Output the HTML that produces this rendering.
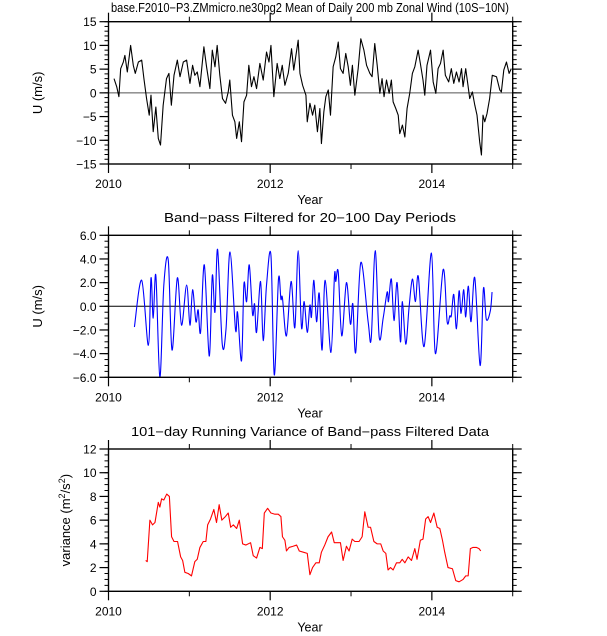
<!DOCTYPE html>
<html><head><meta charset="utf-8"><style>
html,body{margin:0;padding:0;background:#fff;}
svg{display:block;font-family:"Liberation Sans","DejaVu Sans",sans-serif;}
</style></head><body>
<svg id="chart" width="607" height="636" viewBox="0 0 607 636" xmlns="http://www.w3.org/2000/svg"></svg>
<script>
// ---- data (days since 2010-01-01) ----
const uDays=[25,37,47,55,67,74,85,100,112,121,135,150,160,172,184,192,202,214,225,235,247,262,273,284,296,311,323,338,353,368,380,390,401,413,431,443,458,469,481,491,503,515,529,541,548,560,571,579,591,601,612,624,634,646,657,669,684,699,714,725,734,747,762,774,785,797,812,827,837,857,865,877,892,898,910,922,932,944,955,962,973,982,993,1003,1015,1027,1038,1048,1060,1072,1083,1093,1102,1113,1128,1140,1154,1166,1181,1191,1203,1214,1226,1236,1245,1256,1268,1278,1286,1298,1309,1316,1328,1339,1349,1361,1373,1384,1399,1409,1421,1429,1439,1455,1467,1479,1489,1500,1512,1522,1537,1549,1560,1572,1584,1595,1602,1614,1625,1632,1644,1655,1665,1677,1685,1692,1700,1710,1722,1734,1753,1768,1775,1786,1798,1810,1820];
const uVals=[3.0,1.3,-0.8,5.1,6.5,7.9,4.4,10.0,5.8,4.1,6.5,6.9,3.0,-1.2,-4.7,-0.5,-8.2,-3.0,-9.6,-11.0,-2.6,3.0,4.1,-2.6,3.7,6.9,3.4,6.5,6.9,2.0,5.8,3.7,4.4,1.3,9.7,5.5,0.9,9.0,5.5,10.0,3.7,-1.2,-2.2,0.2,2.7,-4.7,-6.1,-9.6,-6.1,-10.3,-1.9,-0.5,5.8,1.3,3.4,0.9,6.2,2.7,8.6,6.5,10.0,-0.8,6.2,3.0,5.8,1.6,4.1,9.3,4.8,11.1,4.1,1.6,-0.5,-6.1,-2.2,-4.7,-2.6,-8.2,-3.3,-10.7,-4.0,-0.8,0.6,-4.7,5.5,7.6,10.7,5.1,4.1,8.3,5.5,1.6,5.8,-0.5,5.1,11.4,9.0,5.8,4.1,3.4,10.4,5.8,-0.1,3.0,-0.8,2.7,-0.1,2.7,-1.9,-3.3,-4.7,-8.6,-6.8,-9.3,-3.3,-0.1,4.1,5.5,9.0,6.2,2.7,-0.5,5.8,9.0,2.3,-0.1,5.1,6.2,9.0,3.7,2.3,5.1,2.0,4.4,2.3,5.1,1.3,5.1,1.3,-1.2,0.2,-2.6,-4.7,-10.3,-13.1,-4.7,-6.1,-4.4,-1.2,3.7,3.4,0.6,0.2,4.8,6.5,4.1,5.1];
const bpDays=[117,150,180,192,202,214,232,250,270,287,311,330,353,368,380,395,405,416,433,455,469,481,493,514,531,549,574,583,601,612,624,636,651,660,669,687,699,714,734,749,768,779,786,804,825,842,857,872,884,898,910,917,928,940,952,965,979,1005,1021,1027,1038,1054,1075,1093,1104,1117,1140,1173,1187,1205,1223,1241,1259,1265,1278,1290,1304,1319,1328,1343,1358,1373,1387,1400,1426,1459,1477,1512,1530,1542,1549,1560,1572,1584,1593,1605,1614,1626,1638,1655,1679,1694,1707,1725,1733];
const bpVals=[-1.75,2.2,-3.3,2.4,-1.0,2.6,-6.0,1.8,3.9,-3.7,2.4,-1.6,1.8,-1.6,1.4,-1.3,-0.3,-2.2,3.5,-4.2,2.6,-0.5,4.8,-3.2,-1.9,4.6,-2.0,-0.5,-4.6,1.9,0.4,3.5,-0.7,0.2,-2.2,2.1,-2.9,1.8,4.3,-5.8,2.3,0.6,0.7,-2.5,2.1,-1.8,4.7,-1.8,0.4,-2.2,0.1,-0.9,2.2,-1.3,1.1,-3.7,2.2,-3.9,2.6,2.1,2.9,-2.5,2.0,-1.5,0.2,-3.9,3.7,-1.3,-2.7,4.7,-2.6,-1.0,1.2,0.4,2.3,-1.2,2.0,-3.0,0.4,-3.2,-0.1,2.3,0.4,2.5,-3.4,4.5,-4.0,3.1,-1.3,-0.8,-0.8,1.0,-1.9,1.3,-0.6,1.4,-0.9,1.7,-1.3,2.4,-5.0,1.5,-1.1,-0.4,1.2];
const varDays=[168,175,187,199,210,225,232,240,250,263,275,285,296,312,326,335,345,360,375,390,401,413,428,440,448,461,476,488,500,512,528,541,552,564,579,591,606,621,642,654,669,684,695,704,719,734,752,767,779,786,797,804,816,834,850,862,880,898,910,922,937,952,962,977,992,1008,1020,1033,1048,1060,1075,1087,1101,1113,1132,1146,1158,1173,1184,1199,1214,1230,1241,1253,1263,1274,1286,1301,1316,1327,1339,1354,1369,1384,1394,1409,1421,1433,1444,1455,1470,1485,1497,1509,1519,1534,1554,1569,1584,1602,1614,1625,1635,1647,1662,1674,1682];
const varVals=[2.6,2.5,6.0,5.6,5.8,7.5,7.1,7.8,7.7,8.2,8.0,4.6,4.2,4.2,2.9,2.6,1.6,1.5,1.3,2.5,2.7,3.7,4.2,4.2,5.6,6.1,6.9,5.8,7.3,6.0,6.3,6.6,5.4,5.6,5.3,6.0,4.0,3.9,4.1,3.0,2.8,3.7,3.6,6.6,7.0,6.6,6.5,6.5,6.3,4.6,4.3,3.4,3.7,3.8,3.9,3.4,3.3,3.2,1.4,2.0,2.4,2.4,3.3,3.9,4.6,5.0,4.1,4.1,4.1,2.6,3.8,3.4,4.4,4.2,4.2,4.6,6.7,5.4,5.4,4.2,4.0,4.0,3.4,3.2,1.8,2.0,1.8,2.4,2.4,2.7,2.4,2.9,2.6,3.6,2.7,4.3,4.4,6.1,6.3,5.8,6.6,5.4,5.3,4.3,3.3,2.0,1.9,0.9,0.8,1.0,1.3,1.3,3.6,3.7,3.7,3.6,3.4];
const xTickYears=[2010,2012,2014];
const xMinorYears=[2011,2013,2015];
const p1Ticks=[15,10,5,0,-5,-10,-15];
const p2Ticks=[6,4,2,0,-2,-4,-6];
const p3Ticks=[0,2,4,6,8,10,12];

const NS="http://www.w3.org/2000/svg";
const svg=document.getElementById('chart');
const X0=108.5,X1=512.7;
const xs=d=>X0+(d/365.25)/5*(X1-X0);
const xy=y=>X0+(y-2010)/5*(X1-X0);
function mk(tag,attrs,parent){const e=document.createElementNS(NS,tag);for(const k in attrs)e.setAttribute(k,attrs[k]);(parent||svg).appendChild(e);return e;}
function txt(s,x,y,opts,parent){const t=mk('text',Object.assign({x:x,y:y,'font-size':12,fill:'#000'},opts||{}),parent);t.textContent=s;return t;}
const fmtMinus=v=>String(v).replace('-','\u2212');

function panel(cfg){
  const g=mk('g',{});
  
  
  const ys=v=>cfg.bot-(v-cfg.min)/(cfg.max-cfg.min)*(cfg.bot-cfg.top);
  // minor y ticks
  for(let v=cfg.min;v<=cfg.max+1e-9;v+=cfg.minor){
    const y=ys(v);
    mk('line',{x1:X0-4,x2:X0,y1:y,y2:y,stroke:'#000','stroke-width':1},g);
    mk('line',{x1:X1,x2:X1+4,y1:y,y2:y,stroke:'#000','stroke-width':1},g);
  }
  const tg=mk('g',{},g);
  
  
  cfg.ticks.forEach(v=>{
    const y=ys(v);
    mk('line',{x1:X0-9,x2:X0,y1:y,y2:y,stroke:'#000','stroke-width':1.2},g);
    mk('line',{x1:X1,x2:X1+9,y1:y,y2:y,stroke:'#000','stroke-width':1.2},g);
    const lab=txt(fmtMinus(cfg.fmt(v)),X0-12,y+4.5,{'text-anchor':'end'},tg);
    
    
  });
  // x ticks
  xTickYears.forEach(yr=>{
    const x=xy(yr);
    mk('line',{x1:x,x2:x,y1:cfg.bot,y2:cfg.bot+9,stroke:'#000','stroke-width':1.2},g);
    mk('line',{x1:x,x2:x,y1:cfg.top-9,y2:cfg.top,stroke:'#000','stroke-width':1.2},g);
    const lab=txt(String(yr),x,cfg.bot+24,{'text-anchor':'middle'},g);
    
    
  });
  xMinorYears.forEach(yr=>{
    const x=xy(yr);
    mk('line',{x1:x,x2:x,y1:cfg.bot,y2:cfg.bot+5,stroke:'#000','stroke-width':1},g);
    mk('line',{x1:x,x2:x,y1:cfg.top-5,y2:cfg.top,stroke:'#000','stroke-width':1},g);
  });
  if(cfg.zero){
    const z=mk('line',{x1:X0,x2:X1,y1:ys(0),y2:ys(0),stroke:cfg.zeroColor,'stroke-width':1},g);
    
    
  }
  // series
  let d='';
  if(cfg.smooth){
    const P=cfg.days.map((dd,i)=>[xs(dd),ys(cfg.vals[i])]);
    d='M'+P[0][0].toFixed(2)+','+P[0][1].toFixed(2);
    for(let i=0;i<P.length-1;i++){
      const p0=P[Math.max(0,i-1)],p1=P[i],p2=P[i+1],p3=P[Math.min(P.length-1,i+2)];
      const c1x=p1[0]+(p2[0]-p0[0])/6,c1y=p1[1]+(p2[1]-p0[1])/6;
      const c2x=p2[0]-(p3[0]-p1[0])/6,c2y=p2[1]-(p3[1]-p1[1])/6;
      d+=' C'+c1x.toFixed(2)+','+c1y.toFixed(2)+' '+c2x.toFixed(2)+','+c2y.toFixed(2)+' '+p2[0].toFixed(2)+','+p2[1].toFixed(2);
    }
  } else {
    d=cfg.days.map((dd,i)=>(i?'L':'M')+xs(dd).toFixed(2)+','+ys(cfg.vals[i]).toFixed(2)).join(' ');
  }
  const s=mk('path',{d:d,fill:'none',stroke:cfg.color,'stroke-width':1.1,'stroke-linejoin':'round'},g);
  
  
  const fr=mk('rect',{x:X0,y:cfg.top,width:X1-X0,height:cfg.bot-cfg.top,fill:'none',stroke:'#000','stroke-width':1.4},g);
  
  
  const t=txt(cfg.title,310,cfg.titleY,{'text-anchor':'middle','font-size':12.5,textLength:cfg.titleLen,lengthAdjust:'spacingAndGlyphs'},g);
  
  
  const xl=txt('Year',310,cfg.bot+40,{'text-anchor':'middle','font-size':12.5},g);
  
  
  const yl=txt(cfg.ylabel,0,0,{'text-anchor':'middle','font-size':13,transform:'translate('+cfg.ylx+','+((cfg.top+cfg.bot)/2)+') rotate(-90)'},g);
  
  
  return yl;
}

panel({name:'zonal-wind-panel',top:21.7,bot:164,min:-15,max:15,minor:1,ticks:p1Ticks,fmt:v=>String(v),zero:true,zeroColor:'#555',
  days:uDays,vals:uVals,color:'#000',seriesName:'zonal-wind-line',smooth:false,
  title:'base.F2010\u2212P3.ZMmicro.ne30pg2 Mean of Daily 200 mb Zonal Wind (10S\u221210N)',titleY:12,titleLen:398,ylabel:'U (m/s)',ylx:42});
panel({name:'bandpass-panel',top:235.3,bot:377.3,min:-6,max:6,minor:0.5,ticks:p2Ticks,fmt:v=>v.toFixed(1),zero:true,zeroColor:'#000',
  days:bpDays,vals:bpVals,color:'#0000ff',seriesName:'bandpass-line',smooth:true,
  title:'Band\u2212pass Filtered for 20\u2212100 Day Periods',titleY:222,titleLen:292,ylabel:'U (m/s)',ylx:42});
const yl3=panel({name:'variance-panel',top:449,bot:591.3,min:0,max:12,minor:0.5,ticks:p3Ticks,fmt:v=>String(v),zero:false,
  days:varDays,vals:varVals,color:'#ff0000',seriesName:'variance-line',smooth:false,
  title:'101\u2212day Running Variance of Band\u2212pass Filtered Data',titleY:436,titleLen:358,ylabel:'',ylx:70});
yl3.innerHTML='variance (m<tspan baseline-shift="super" font-size="9">2</tspan>/s<tspan baseline-shift="super" font-size="9">2</tspan>)';
</script>
</body></html>
